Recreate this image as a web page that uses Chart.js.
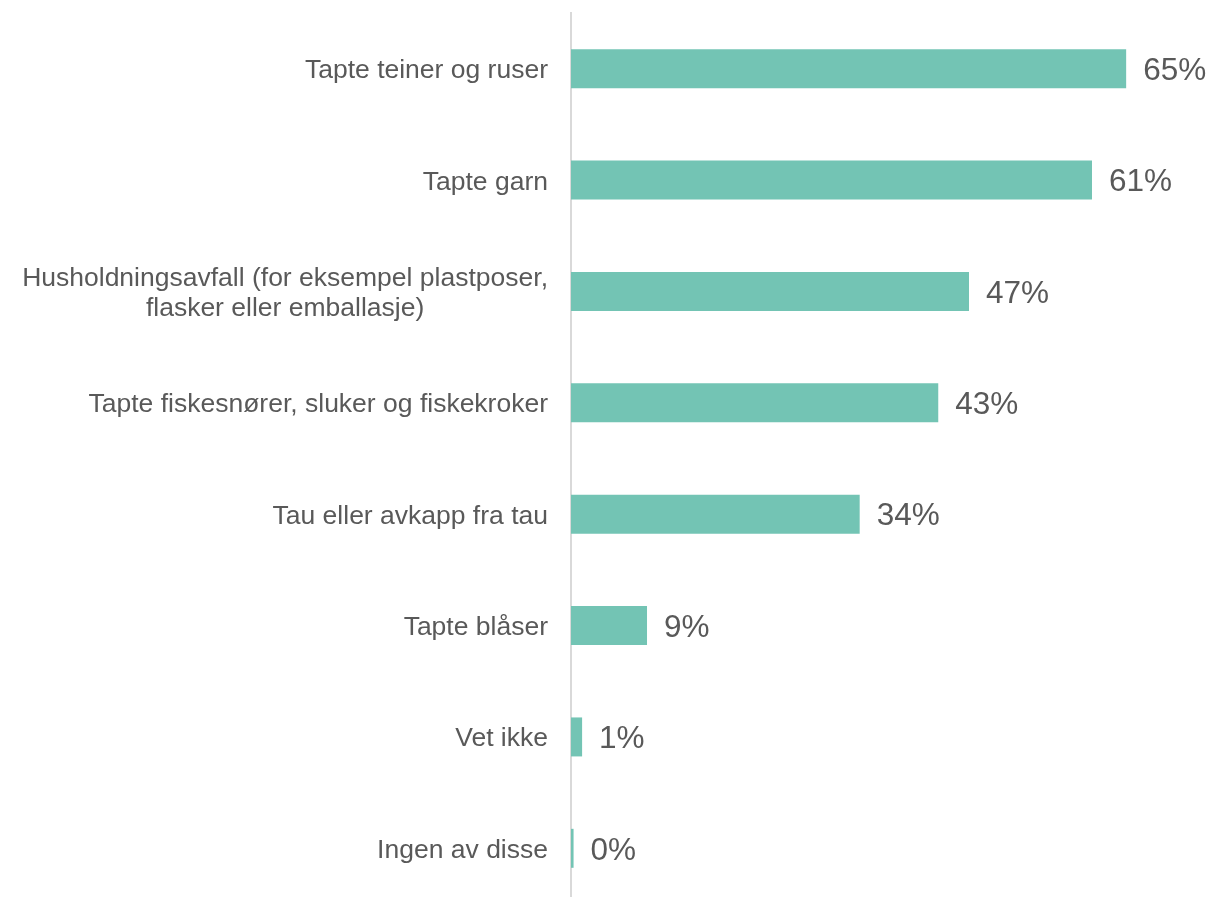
<!DOCTYPE html>
<html>
<head>
<meta charset="utf-8">
<script src="https://cdn.jsdelivr.net/npm/chart.js@4.4.1/dist/chart.umd.min.js"></script>
<style>
  html, body { margin: 0; padding: 0; background: #ffffff; overflow: hidden; }
  #wrap { position: relative; width: 1209px; height: 904px; }
</style>
</head>
<body>
<div id="wrap"><canvas id="c"></canvas></div>
<script>
const categories = [
  ["Tapte teiner og ruser"],
  ["Tapte garn"],
  ["Husholdningsavfall (for eksempel plastposer,", "flasker eller emballasje)"],
  ["Tapte fiskesnører, sluker og fiskekroker"],
  ["Tau eller avkapp fra tau"],
  ["Tapte blåser"],
  ["Vet ikke"],
  ["Ingen av disse"]
];
const values = [65, 61, 46.6, 43, 33.8, 8.9, 1.3, 0.3];

const TEXT = '#595959';
const FONT = '"Liberation Sans", Arial, sans-serif';

const labelPlugin = {
  id: 'labels',
  afterDatasetsDraw(chart) {
    const ctx = chart.ctx;
    const yScale = chart.scales.y;
    const meta = chart.getDatasetMeta(0);
    ctx.save();
    // category labels
    const catSize = 26.5;
    ctx.font = catSize + 'px ' + FONT;
    ctx.fillStyle = TEXT;
    ctx.textBaseline = 'alphabetic';
    const rightEdge = chart.chartArea.left - 23;
    const lineH = 30;
    categories.forEach((lines, i) => {
      const yc = yScale.getPixelForTick(i);
      const widths = lines.map(l => ctx.measureText(l).width);
      const maxW = Math.max(...widths);
      const blockCenter = rightEdge - maxW / 2;
      const n = lines.length;
      lines.forEach((l, j) => {
        const off = (j - (n - 1) / 2) * lineH;
        ctx.textAlign = 'center';
        ctx.fillText(l, blockCenter, yc + off + catSize * 0.358);
      });
    });
    // value labels
    const valSize = 31.5;
    ctx.font = valSize + 'px ' + FONT;
    ctx.textAlign = 'left';
    meta.data.forEach((bar, i) => {
      const txt = Math.round(values[i]) + '%';
      ctx.fillText(txt, bar.x + 17, bar.y + valSize * 0.358);
    });
    ctx.restore();
  }
};

new Chart(document.getElementById('c'), {
  type: 'bar',
  data: {
    labels: categories,
    datasets: [{
      data: values,
      backgroundColor: '#73C4B4',
      borderWidth: 0,
      categoryPercentage: 1,
      barPercentage: 0.35
    }]
  },
  options: {
    indexAxis: 'y',
    responsive: true,
    maintainAspectRatio: false,
    animation: false,
    layout: { padding: { top: 13, right: 0, bottom: 0, left: 0 } },
    plugins: { legend: { display: false }, tooltip: { enabled: false } },
    scales: {
      x: {
        display: false,
        min: 0,
        max: 74.7
      },
      y: {
        grid: { display: false },
        border: { display: true, color: '#d9d9d9', width: 2 },
        ticks: { display: false },
        afterFit(scale) { scale.width = 571; }
      }
    }
  },
  plugins: [labelPlugin]
});
</script>
</body>
</html>
